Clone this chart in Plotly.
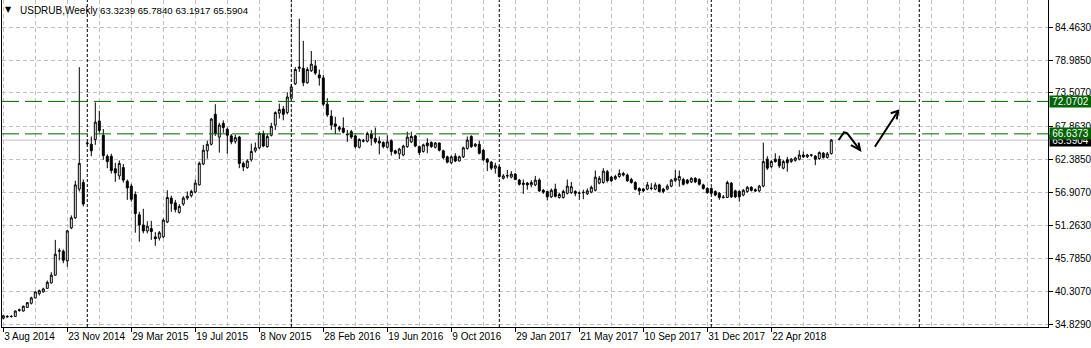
import plotly.graph_objects as go

# ---------------- data (weekly USDRUB bars) ----------------
open_ = [
    35.8, 36.0, 36.1, 36.1, 37.1, 37.0, 37.6, 38.3, 39.2, 39.9,
    40.2, 40.8, 41.7, 43.0, 47.0, 47.0, 45.4, 50.9, 52.6, 57.4,
    58.5, 65.0, 64.9, 65.7, 68.8, 66.4, 62.9, 62.9, 60.8, 59.6,
    61.0, 58.7, 57.9, 56.5, 53.1, 51.4, 50.4, 50.8, 49.4, 49.2,
    49.4, 51.9, 55.9, 55.1, 53.5, 54.9, 55.9, 56.3, 56.9, 58.1,
    61.6, 63.8, 64.9, 69.9, 66.1, 68.4, 67.4, 66.3, 65.4, 66.1,
    61.7, 61.0, 62.3, 63.8, 64.3, 66.7, 64.5, 66.4, 68.1, 70.1,
    70.8, 70.2, 72.6, 75.0, 77.6, 77.6, 75.2, 77.2, 78.0, 76.5,
    76.0, 71.6, 69.6, 68.3, 67.7, 67.6, 66.6, 67.0, 66.3, 64.4,
    65.4, 65.4, 66.6, 65.9, 65.4, 65.2, 64.4, 65.5, 63.8, 63.3,
    63.1, 64.5, 65.3, 66.3, 64.5, 63.7, 65.1, 65.2, 64.4, 65.1,
    63.8, 62.8, 61.8, 62.9, 62.1, 62.8, 64.2, 66.2, 64.6, 64.9,
    63.9, 62.4, 61.9, 60.9, 61.1, 59.2, 59.6, 59.4, 59.9, 58.9,
    58.4, 58.4, 58.1, 58.1, 58.9, 57.2, 57.0, 56.1, 57.4, 56.0,
    56.0, 56.7, 56.8, 57.0, 56.7, 56.8, 56.6, 56.9, 57.2, 58.4,
    58.5, 60.3, 59.4, 59.1, 59.5, 60.0, 59.75, 59.0, 58.5, 57.5,
    57.4, 57.4, 57.5, 57.4, 58.1, 57.4, 57.4, 57.9, 58.8, 58.9,
    59.0, 58.9, 58.6, 59.2, 59.0, 58.1, 57.5, 57.5, 57.0, 56.7,
    56.0, 56.0, 58.4, 57.1, 57.0, 56.4, 57.0, 57.7, 57.3, 57.1,
    57.9, 62.4, 61.15, 62.4, 62.4, 60.9, 62.3, 62.0, 62.2, 62.4,
    63.1, 62.8, 63.05, 62.9, 62.5, 63.4, 62.7, 63.3239,
]
high = [
    36.4, 36.3, 36.3, 37.1, 37.4, 37.9, 38.5, 39.4, 40.3, 40.6,
    40.9, 42.1, 43.5, 48.9, 47.5, 47.3, 50.6, 53.0, 58.8, 77.8,
    59.0, 65.3, 66.2, 71.9, 70.5, 67.45, 63.2, 63.3, 61.8, 62.2,
    61.6, 59.0, 58.3, 57.0, 53.6, 54.1, 52.0, 52.1, 50.2, 50.4,
    52.5, 57.2, 56.3, 55.6, 54.9, 56.2, 57.0, 57.3, 59.0, 62.0,
    64.8, 65.5, 69.3, 71.6, 68.5, 68.9, 67.7, 66.6, 66.5, 66.3,
    62.0, 62.4, 65.0, 65.2, 67.0, 67.2, 66.6, 68.5, 70.4, 71.7,
    71.3, 73.6, 75.0, 77.8, 85.9, 82.2, 77.8, 80.5, 79.0, 77.4,
    76.5, 72.6, 70.6, 69.5, 68.0, 69.4, 67.3, 67.3, 66.5, 65.9,
    65.8, 67.0, 67.3, 67.7, 66.2, 65.4, 66.4, 65.7, 64.0, 64.3,
    64.8, 67.0, 67.0, 66.5, 64.7, 65.0, 65.9, 65.4, 65.3, 65.2,
    64.0, 63.0, 63.0, 63.4, 63.0, 64.5, 66.2, 66.4, 65.1, 65.5,
    64.1, 62.6, 62.1, 61.8, 61.3, 59.9, 60.6, 60.4, 60.1, 59.1,
    59.0, 58.6, 58.9, 59.6, 59.2, 57.4, 57.1, 57.5, 58.3, 56.8,
    57.3, 59.0, 58.6, 57.2, 57.0, 57.3, 57.5, 58.0, 60.5, 59.6,
    60.9, 60.6, 59.6, 59.8, 60.7, 60.3, 60.0, 59.3, 58.7, 57.7,
    57.6, 58.6, 58.4, 58.5, 58.3, 57.6, 58.2, 59.1, 60.6, 60.5,
    59.3, 59.1, 59.4, 59.4, 59.2, 58.3, 57.7, 57.7, 57.2, 56.9,
    56.4, 58.8, 58.6, 57.3, 57.2, 57.4, 57.9, 57.9, 57.5, 58.1,
    65.16, 62.9, 62.3, 63.4, 63.0, 62.3, 62.8, 62.6, 62.8, 63.9,
    63.7, 63.3, 63.3, 63.1, 63.7, 63.6, 63.6, 65.784,
]
low = [
    35.6, 35.9, 35.9, 36.0, 36.9, 36.9, 37.5, 38.1, 39.1, 39.6,
    40.1, 40.7, 41.6, 42.9, 45.5, 45.0, 44.4, 50.7, 52.4, 57.0,
    54.5, 64.8, 62.9, 64.8, 66.8, 62.3, 60.9, 60.0, 58.6, 59.0,
    58.5, 55.6, 55.3, 50.1, 48.6, 50.0, 50.0, 48.9, 47.9, 48.8,
    49.2, 51.7, 53.6, 53.5, 53.3, 54.6, 55.6, 56.0, 56.7, 58.0,
    61.4, 62.5, 64.7, 66.3, 63.5, 66.8, 63.3, 64.9, 65.0, 60.9,
    60.4, 60.8, 62.0, 63.5, 64.1, 64.4, 64.3, 66.2, 67.3, 69.2,
    68.9, 69.9, 72.4, 74.8, 77.0, 74.6, 75.0, 77.0, 76.5, 74.7,
    71.3, 69.5, 67.3, 66.6, 67.0, 66.7, 65.3, 65.8, 64.2, 64.2,
    65.2, 65.2, 64.7, 65.0, 63.2, 64.2, 64.2, 63.0, 63.2, 62.4,
    62.9, 64.3, 65.1, 64.4, 63.1, 63.5, 63.4, 64.3, 64.2, 63.7,
    62.4, 61.7, 61.6, 61.9, 62.0, 62.6, 64.0, 64.3, 64.4, 63.2,
    62.1, 60.4, 60.6, 60.0, 59.3, 59.0, 59.2, 59.2, 58.9, 58.0,
    56.6, 57.3, 57.7, 57.9, 56.9, 56.6, 55.5, 55.9, 56.0, 55.8,
    55.8, 56.5, 56.6, 56.2, 55.6, 55.7, 56.4, 56.7, 57.0, 58.2,
    58.3, 58.5, 58.6, 58.9, 59.3, 59.5, 58.6, 58.3, 57.2, 56.4,
    56.9, 57.2, 57.2, 57.2, 56.8, 56.7, 57.2, 57.7, 58.6, 57.8,
    58.0, 58.2, 58.4, 58.4, 58.0, 57.3, 56.6, 56.5, 56.2, 55.6,
    55.8, 55.9, 55.9, 55.9, 55.3, 56.2, 56.8, 57.0, 56.9, 56.9,
    57.7, 60.6, 60.9, 61.8, 60.9, 60.7, 60.3, 61.8, 62.0, 62.2,
    62.6, 62.6, 62.8, 61.4, 62.3, 62.5, 62.5, 63.1917,
]
close = [
    36.2, 36.1, 36.1, 37.0, 37.2, 37.8, 38.4, 39.2, 40.2, 40.4,
    40.7, 41.8, 43.0, 46.5, 47.1, 45.5, 50.4, 52.6, 58.1, 61.7,
    54.9, 65.1, 63.8, 68.6, 67.2, 63.0, 62.0, 60.5, 60.1, 61.7,
    58.9, 57.6, 55.7, 53.3, 51.4, 50.4, 51.2, 50.3, 49.1, 50.1,
    52.2, 56.0, 55.0, 54.0, 54.5, 55.9, 56.2, 57.0, 58.4, 61.7,
    63.9, 64.9, 69.1, 66.7, 68.1, 67.7, 66.4, 65.3, 66.0, 61.7,
    61.1, 62.1, 63.7, 64.3, 66.7, 64.6, 66.2, 67.9, 70.2, 70.7,
    69.9, 72.8, 74.5, 77.4, 77.8, 75.2, 77.4, 78.3, 76.8, 76.0,
    71.6, 69.8, 68.1, 67.9, 67.4, 66.9, 66.5, 66.1, 64.5, 65.7,
    65.5, 66.7, 65.9, 65.3, 65.1, 64.5, 65.3, 63.7, 63.4, 64.1,
    64.6, 66.1, 66.2, 64.6, 63.5, 64.8, 64.65, 64.5, 65.1, 63.9,
    62.65, 61.9, 62.8, 62.1, 62.8, 64.3, 65.6, 64.5, 64.9, 63.4,
    62.3, 61.9, 60.9, 61.3, 59.5, 59.6, 59.65, 59.9, 59.0, 58.2,
    58.2, 58.1, 58.5, 58.9, 57.1, 56.9, 56.1, 57.2, 56.2, 56.5,
    57.0, 57.9, 57.8, 56.7, 56.75, 56.85, 57.1, 57.7, 59.4, 59.2,
    60.4, 58.8, 58.8, 59.5, 60.0, 59.75, 58.8, 58.5, 57.36, 57.1,
    57.1, 58.1, 57.55, 58.1, 57.0, 57.0, 57.9, 58.9, 59.2, 59.5,
    58.2, 58.4, 59.2, 58.6, 58.2, 57.5, 56.8, 56.7, 56.4, 56.0,
    56.05, 58.5, 56.1, 56.1, 56.1, 57.2, 57.7, 57.2, 57.1, 57.9,
    62.0, 60.9, 62.0, 62.0, 61.3, 62.0, 61.8, 62.4, 62.6, 63.1,
    62.8, 63.1, 63.1, 62.4, 63.5, 62.7, 63.3, 65.5904,
]

date_ticks_bar = [0, 16, 32, 48, 64, 80, 96, 112, 128, 144, 160, 176, 192]
date_labels = ["3 Aug 2014", "23 Nov 2014", "29 Mar 2015", "19 Jul 2015", "8 Nov 2015",
               "28 Feb 2016", "19 Jun 2016", "9 Oct 2016", "29 Jan 2017", "21 May 2017",
               "10 Sep 2017", "31 Dec 2017", "22 Apr 2018"]
year_start_bars = [21, 72, 124, 177, 229]
price_ticks = [84.4630, 78.9850, 73.5070, 67.8630, 62.3850, 56.9070, 51.2630, 45.7850, 40.3070, 34.8290]
level_lines = [72.0702, 66.6373]

n = len(close)
assert len(open_) == n and len(high) == n and len(low) == n
bars = list(range(n))

FONT = "Liberation Sans"
GRID = "#C0C0C0"
GREEN = "#006400"

fig = go.Figure()
fig.add_trace(go.Candlestick(
    x=bars, open=open_, high=high, low=low, close=close,
    increasing=dict(fillcolor="white", line=dict(color="black", width=1)),
    decreasing=dict(fillcolor="black", line=dict(color="black", width=1)),
    whiskerwidth=0, showlegend=False, hoverinfo="skip",
))

shapes = []
for b in year_start_bars:
    shapes.append(dict(type="line", xref="x", yref="paper", x0=b, x1=b, y0=0, y1=1,
                       line=dict(color="black", width=1, dash="3px,2px"), layer="above"))
for lv in level_lines:
    shapes.append(dict(type="line", xref="paper", yref="y", x0=0, x1=1, y0=lv, y1=lv,
                       line=dict(color=GREEN, width=1, dash="17px,6px"), layer="above"))
shapes.append(dict(type="line", xref="paper", yref="y", x0=0, x1=1, y0=close[-1], y1=close[-1],
                   line=dict(color=GRID, width=1), layer="below"))

# hand-drawn arrows (bar index, price)
zig = [(208.85, 65.61), (210.2, 66.90), (211.0, 66.73), (212.9, 65.06), (214.2, 63.94)]
zig_head = [(211.9, 64.77), (214.2, 63.94), (213.8, 65.19)]
straight = [(217.9, 64.49), (223.75, 70.51)]
straight_head = [(221.85, 70.08), (223.75, 70.51), (223.35, 69.07)]
for pts in (zig, zig_head, straight, straight_head):
    path = "M " + " L ".join(f"{x},{y}" for x, y in pts)
    shapes.append(dict(type="path", xref="x", yref="y", path=path,
                       line=dict(color="black", width=2), layer="above"))

annotations = [
    dict(xref="paper", yref="paper", x=0, y=1, xanchor="left", yanchor="top", xshift=1, yshift=-3,
         text="▼", showarrow=False, font=dict(family="DejaVu Sans", size=8, color="black")),
    dict(xref="paper", yref="paper", x=0, y=1, xanchor="left", yanchor="top", xshift=16, yshift=-3,
         text="USDRUB,Weekly", showarrow=False, font=dict(family=FONT, size=10, color="black")),
    dict(xref="paper", yref="paper", x=0, y=1, xanchor="left", yanchor="top", xshift=96, yshift=-3,
         text=f"{open_[-1]:.4f} {high[-1]:.4f} {low[-1]:.4f} {close[-1]:.4f}", showarrow=False,
         font=dict(family=FONT, size=9.7, color="black")),
    dict(xref="paper", yref="y", x=1, y=close[-1], xanchor="left", yanchor="middle", xshift=1,
         text=f"{close[-1]:.4f}", showarrow=False, bgcolor="black", width=41, height=11,
         borderpad=0, font=dict(family=FONT, size=10, color="white")),
]
for lv in level_lines[::-1]:
    annotations.append(dict(xref="paper", yref="y", x=1, y=lv, xanchor="left", yanchor="middle", xshift=1,
                            text=f"{lv:.4f}", showarrow=False, bgcolor=GREEN, width=41, height=11,
                            borderpad=0, font=dict(family=FONT, size=10, color="white")))

fig.update_layout(
    width=1091, height=348,
    margin=dict(l=2, r=43, t=0, b=21, autoexpand=False),
    paper_bgcolor="white", plot_bgcolor="white",
    showlegend=False,
    shapes=shapes, annotations=annotations,
    xaxis=dict(
        range=[-0.325, 261.175], tickmode="array", tickvals=date_ticks_bar, ticktext=date_labels,
        ticks="outside", ticklen=4, tickcolor="black", ticklabelposition="outside right",
        tickangle=0, automargin=False,
        tickfont=dict(family=FONT, size=10, color="black"),
        showgrid=True, gridcolor=GRID, griddash="4px,3px", gridwidth=1,
        minor=dict(tickmode="linear", tick0=0, dtick=8, showgrid=True, gridcolor=GRID,
                   griddash="4px,3px", ticks=""),
        showline=True, linecolor="black", linewidth=1, zeroline=False,
        rangeslider=dict(visible=False), fixedrange=True,
    ),
    yaxis=dict(
        side="right", range=[34.33, 89.03], tickmode="array", tickvals=price_ticks,
        ticktext=[f"{v:.4f}" for v in price_ticks], automargin=False,
        ticks="outside", ticklen=4, tickcolor="black",
        tickfont=dict(family=FONT, size=10, color="black"),
        showgrid=True, gridcolor=GRID, griddash="4px,3px", gridwidth=1,
        showline=True, mirror=True, linecolor="black", linewidth=1, zeroline=False, fixedrange=True,
    ),
)

fig.write_html("out.html")
